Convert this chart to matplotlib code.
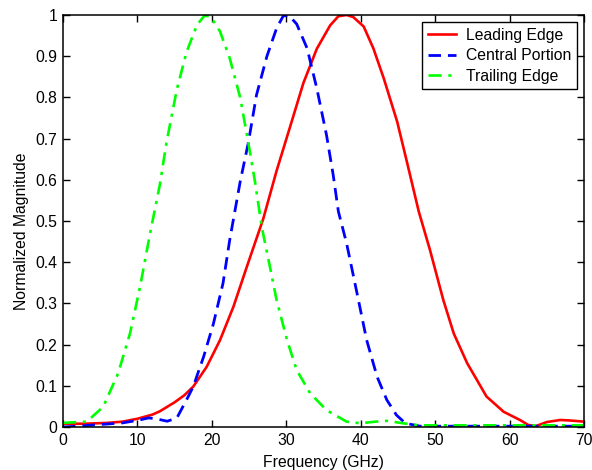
import matplotlib
matplotlib.use("Agg")
import matplotlib.pyplot as plt
from matplotlib.ticker import FuncFormatter

plt.rcParams['font.family'] = ['Liberation Sans', 'DejaVu Sans']

# leading edge spectrum
lead_freq = [0, 3, 6, 8, 10, 12, 13, 15, 16.3, 17.5, 19.3, 21.1, 22.9, 24.7, 26.9,
             28.7, 30.5, 32.3, 34.1, 35.9, 37.0, 38.1, 39.0, 40.4, 41.7, 43.1, 44.9,
             46.2, 47.8, 49.3, 51.1, 52.5, 54.3, 56.9, 59.2, 61.4, 62.5, 63.5, 65.0,
             66.8, 68, 70]
lead_mag = [0.008, 0.008, 0.01, 0.013, 0.02, 0.03, 0.038, 0.06, 0.077, 0.098, 0.146,
            0.211, 0.292, 0.389, 0.505, 0.622, 0.728, 0.835, 0.918, 0.975, 0.997,
            1.0, 0.995, 0.972, 0.919, 0.846, 0.741, 0.644, 0.523, 0.43, 0.308,
            0.227, 0.155, 0.074, 0.037, 0.017, 0.005, 0.002, 0.012, 0.017, 0.016,
            0.013]

# central portion spectrum
central_freq = [0, 2, 5, 8, 10, 11.5, 12.5, 14, 15.3, 16.6, 17.5, 18.9, 20.2, 21.5,
                22.4, 23.8, 24.9, 26.0, 27.4, 28.7, 29.6, 30.4, 31.4, 32.8, 34.1,
                35.4, 36.3, 37.0, 38.1, 39.5, 40.8, 42.2, 43.5, 44.8, 46.0, 48, 70]
central_mag = [0.0, 0.002, 0.006, 0.01, 0.016, 0.022, 0.02, 0.014, 0.022, 0.066,
               0.098, 0.171, 0.25, 0.349, 0.454, 0.595, 0.69, 0.806, 0.90, 0.968,
               0.998, 0.998, 0.978, 0.919, 0.822, 0.709, 0.612, 0.523, 0.446,
               0.325, 0.211, 0.122, 0.066, 0.029, 0.009, 0.002, 0.002]

# trailing edge spectrum
trail_freq = [0, 3.2, 5.4, 7.4, 9.0, 10.35, 11.7, 13.0, 13.9, 15.3, 16.6, 18.0,
              19.0, 19.8, 21.1, 22.4, 23.8, 24.9, 25.8, 26.7, 27.8, 28.7, 30.1, 31.4,
              33.2, 35.4, 38.1, 39.9, 42, 43.5, 45.7, 48, 70]
trail_mag = [0.01, 0.013, 0.049, 0.13, 0.227, 0.34, 0.47, 0.587, 0.69, 0.82, 0.91,
             0.976, 0.998, 0.997, 0.96, 0.895, 0.80, 0.69, 0.595, 0.486, 0.389,
             0.308, 0.211, 0.138, 0.082, 0.041, 0.013, 0.009, 0.013, 0.015, 0.009,
             0.004, 0.004]

x_ticks = [0, 10, 20, 30, 40, 50, 60, 70]
y_ticks = [0, 0.1, 0.2, 0.3, 0.4, 0.5, 0.6, 0.7, 0.8, 0.9, 1]

fig = plt.figure(figsize=(5.92, 4.70), dpi=100)
ax = fig.add_axes([63 / 592, 43 / 470, 521 / 592, 412 / 470])

ax.plot(lead_freq, lead_mag, color='#ff0000', lw=1.9, label='Leading Edge')
ax.plot(central_freq, central_mag, color='#0000ff', lw=2.0, dashes=(4.5, 2.5),
        label='Central Portion')
ax.plot(trail_freq, trail_mag, color='#00ff00', lw=1.9, dashes=(5, 2.5, 1.2, 2.5),
        label='Trailing Edge')

ax.set_xlim(0, 70)
ax.set_ylim(0, 1)
ax.set_xticks(x_ticks)
ax.set_yticks(y_ticks)
ax.yaxis.set_major_formatter(FuncFormatter(lambda v, p: '%g' % v))
ax.tick_params(direction='in', length=5, width=1, top=True, right=True,
               labelsize=11.3, pad=4)
for s in ax.spines.values():
    s.set_linewidth(1.1)

ax.set_xlabel('Frequency (GHz)', fontsize=11.3, labelpad=5)
ax.set_ylabel('Normalized Magnitude', fontsize=11.3)
ax.yaxis.set_label_coords(-0.065, 0.475)

leg = ax.legend(loc='upper right', fontsize=11.3, fancybox=False, framealpha=1,
                edgecolor='black', borderaxespad=0.45, handlelength=1.8,
                handletextpad=0.65, labelspacing=0.35, borderpad=0.35)
leg.get_frame().set_linewidth(1.0)

fig.savefig('out.png', dpi=100)
